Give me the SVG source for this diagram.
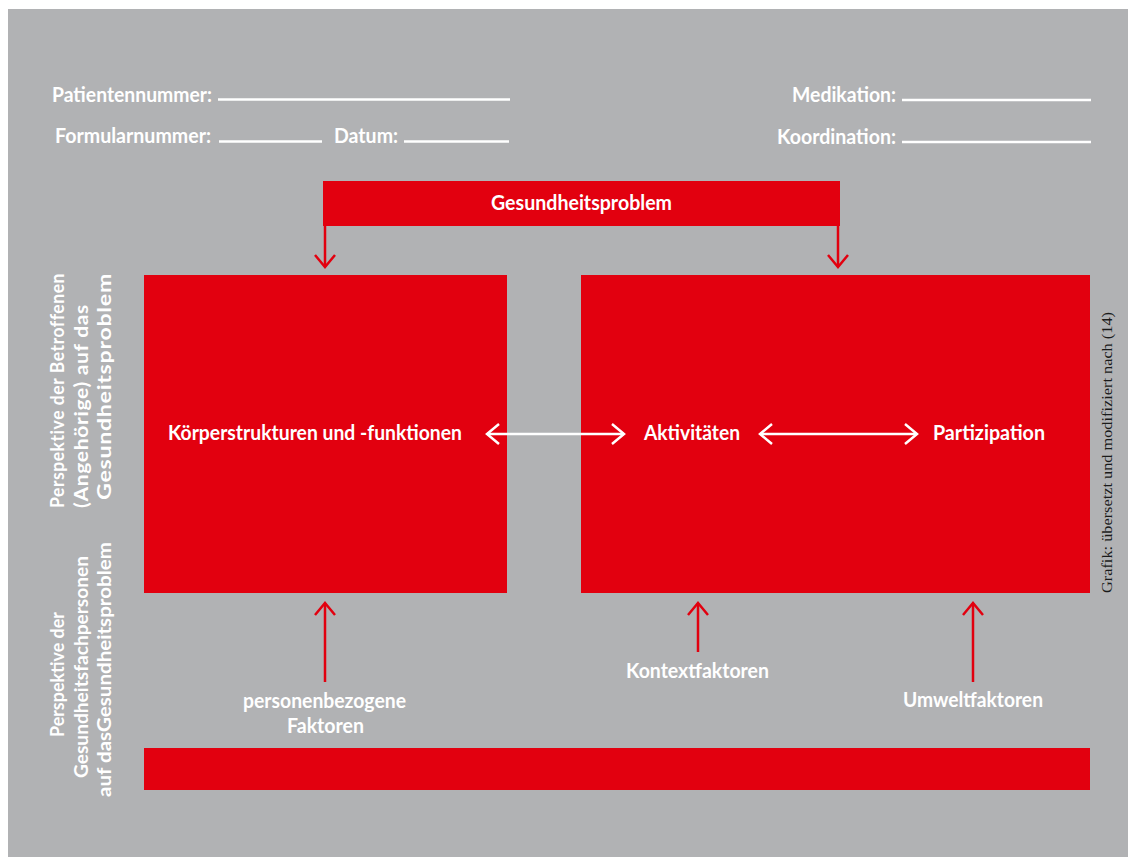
<svg xmlns="http://www.w3.org/2000/svg" width="1135" height="857" viewBox="0 0 1135 857">
  <style>
    .bg { fill: #b1b2b4; }
    .red { fill: #e2000f; }
    .t { font-family: Lato, "Open Sans", "Liberation Sans", sans-serif; font-weight: 700; fill: #ffffff; font-size: 20px; }
    .rot { font-family: Lato, "Open Sans", "Liberation Sans", sans-serif; font-weight: 700; fill: #ffffff; font-size: 18px; }
    .rot2 { font-family: Lato, "Open Sans", "Liberation Sans", sans-serif; font-weight: 700; fill: #ffffff; font-size: 19px; letter-spacing: 0.6px; }
    .credit { font-family: "Liberation Serif", "DejaVu Serif", serif; font-size: 14px; fill: #1a1a1a; }
    .rule { stroke: #ffffff; stroke-width: 2.5; fill: none; }
    .cr { stroke: #e2000f; stroke-width: 2.5; fill: none; }
    .cw { stroke: #ffffff; stroke-width: 2.5; fill: none; }
  </style>
  <defs>
    <marker id="hR" markerUnits="userSpaceOnUse" viewBox="-16 -14 20 28" refX="0" refY="0" markerWidth="20" markerHeight="28" orient="auto-start-reverse" overflow="visible">
      <path d="M-12,-10 L0,0 L-12,10" fill="none" stroke="#e2000f" stroke-width="2.5"/>
    </marker>
    <marker id="hW" markerUnits="userSpaceOnUse" viewBox="-16 -14 20 28" refX="0" refY="0" markerWidth="20" markerHeight="28" orient="auto-start-reverse" overflow="visible">
      <path d="M-12,-10 L0,0 L-12,10" fill="none" stroke="#ffffff" stroke-width="2.5"/>
    </marker>
  </defs>

  <rect x="0" y="0" width="1135" height="857" fill="#ffffff"/>
  <rect class="bg" x="8" y="9" width="1120" height="848"/>

  <g id="header">
    <text class="t" x="52" y="102" textLength="160" lengthAdjust="spacingAndGlyphs">Patientennummer:</text>
    <line class="rule" x1="218" y1="99.5" x2="510" y2="99.5"/>
    <text class="t" x="55" y="143" textLength="156" lengthAdjust="spacingAndGlyphs">Formularnummer:</text>
    <line class="rule" x1="219" y1="141.5" x2="322" y2="141.5"/>
    <text class="t" x="334" y="143" textLength="64" lengthAdjust="spacingAndGlyphs">Datum:</text>
    <line class="rule" x1="404" y1="141.5" x2="509" y2="141.5"/>
    <text class="t" x="792" y="102" textLength="104" lengthAdjust="spacingAndGlyphs">Medikation:</text>
    <line class="rule" x1="902" y1="100" x2="1091" y2="100"/>
    <text class="t" x="777" y="144" textLength="119" lengthAdjust="spacingAndGlyphs">Koordination:</text>
    <line class="rule" x1="902" y1="142" x2="1091" y2="142"/>
  </g>

  <g id="gesundheitsproblem">
    <rect class="red" x="323" y="181" width="517" height="45"/>
    <text class="t" x="491" y="210" textLength="181" lengthAdjust="spacingAndGlyphs">Gesundheitsproblem</text>
  </g>

  <g id="koerper">
    <rect class="red" x="144" y="275" width="363" height="318"/>
    <text class="t" x="168" y="440" textLength="294" lengthAdjust="spacingAndGlyphs">Körperstrukturen und -funktionen</text>
  </g>

  <g id="aktivitaeten-partizipation">
    <rect class="red" x="581" y="275" width="509" height="318"/>
  </g>
  <g id="aktivitaeten">
    <text class="t" x="644" y="440" textLength="96" lengthAdjust="spacingAndGlyphs">Aktivitäten</text>
  </g>
  <g id="partizipation">
    <text class="t" x="933" y="440" textLength="112" lengthAdjust="spacingAndGlyphs">Partizipation</text>
  </g>

  <g id="kontextbalken">
    <rect class="red" x="144" y="748" width="946" height="42"/>
  </g>

  <g id="personenbezogene">
    <text class="t" x="243" y="708" textLength="163" lengthAdjust="spacingAndGlyphs">personenbezogene</text>
    <text class="t" x="287" y="733" textLength="77" lengthAdjust="spacingAndGlyphs">Faktoren</text>
  </g>
  <g id="kontextfaktoren">
    <text class="t" x="626" y="678" textLength="143" lengthAdjust="spacingAndGlyphs">Kontextfaktoren</text>
  </g>
  <g id="umweltfaktoren">
    <text class="t" x="903" y="707" textLength="140" lengthAdjust="spacingAndGlyphs">Umweltfaktoren</text>
  </g>

  <g id="perspektive-betroffene">
    <text class="rot2" transform="translate(64,508) rotate(-90)" textLength="235" lengthAdjust="spacingAndGlyphs">Perspektive der Betroffenen</text>
    <text class="rot2" transform="translate(87.5,508) rotate(-90)" textLength="204" lengthAdjust="spacingAndGlyphs">(Angehörige) auf das</text>
    <text class="rot2" transform="translate(111,500) rotate(-90)" textLength="227" lengthAdjust="spacingAndGlyphs">Gesundheitsproblem</text>
  </g>

  <g id="perspektive-fachpersonen">
    <text class="rot" transform="translate(64,737) rotate(-90)" textLength="125" lengthAdjust="spacingAndGlyphs">Perspektive der</text>
    <text class="rot" transform="translate(87.5,778) rotate(-90)" textLength="222" lengthAdjust="spacingAndGlyphs">Gesundheitsfachpersonen</text>
    <text class="rot" transform="translate(111,797) rotate(-90)" textLength="255" lengthAdjust="spacingAndGlyphs">auf dasGesundheitsproblem</text>
  </g>

  <g id="quelle">
    <text class="credit" transform="translate(1112,593) rotate(-90)" textLength="281" lengthAdjust="spacingAndGlyphs">Grafik: übersetzt und modifiziert nach (14)</text>
  </g>

  <g id="connectors">
    <line class="cr" x1="325" y1="226" x2="325" y2="267" marker-end="url(#hR)"/>
    <line class="cr" x1="838" y1="226" x2="838" y2="267" marker-end="url(#hR)"/>
    <line class="cw" x1="487" y1="434" x2="624" y2="434" marker-start="url(#hW)" marker-end="url(#hW)"/>
    <line class="cw" x1="760" y1="434" x2="917" y2="434" marker-start="url(#hW)" marker-end="url(#hW)"/>
    <line class="cr" x1="325" y1="682" x2="325" y2="603" marker-end="url(#hR)"/>
    <line class="cr" x1="698" y1="652" x2="698" y2="603" marker-end="url(#hR)"/>
    <line class="cr" x1="973" y1="682" x2="973" y2="603" marker-end="url(#hR)"/>
  </g>
</svg>
